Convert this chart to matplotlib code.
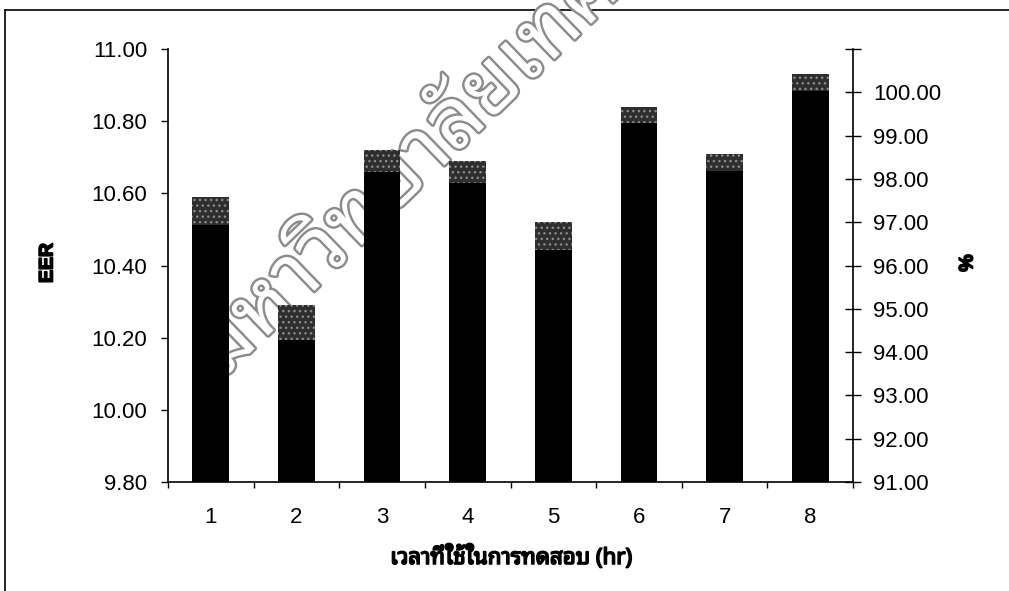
import matplotlib
matplotlib.use("Agg")
import matplotlib.pyplot as plt
import matplotlib.patheffects as pe
from matplotlib.lines import Line2D
import numpy as np

# Test hours and measured results
hours = [1, 2, 3, 4, 5, 6, 7, 8]
eer = [10.59, 10.29, 10.72, 10.69, 10.52, 10.84, 10.71, 10.93]
percent = [96.94, 94.28, 98.16, 97.90, 96.36, 99.29, 98.18, 100.02]

eer_ticks = [9.80, 10.00, 10.20, 10.40, 10.60, 10.80, 11.00]
pct_ticks = [91, 92, 93, 94, 95, 96, 97, 98, 99, 100, 101]

x_label = "เวลาที่ใช้ในการทดสอบ (hr)"
left_label = "EER"
right_label = "%"
stamp = "มหาวิทยาลัยเทคโนโลยีราชมงคล"

num_font = "Liberation Sans"
thai_font = ["Noto Sans Thai Looped", "Liberation Sans"]
heavy = [pe.withStroke(linewidth=1.2, foreground="black")]

W, H = 1009, 591
fig = plt.figure(figsize=(W / 100, H / 100), dpi=100)
fig.patch.set_facecolor("white")

# page frame lines
fig.add_artist(Line2D([5 / W, 1.0], [1 - 10 / H, 1 - 10 / H], color="black", lw=1.2, zorder=-3))
fig.add_artist(Line2D([5 / W, 5 / W], [0.0, 1 - 10 / H], color="black", lw=1.2, zorder=-3))

# outlined stamp text running diagonally behind the bars
fig.text(222 / W, 1 - 380 / H, stamp, family=thai_font, fontsize=60,
         rotation=44, rotation_mode="anchor", ha="left", va="baseline",
         color="white", zorder=-1,
         path_effects=[pe.withStroke(linewidth=3.5, foreground="#8c8c8c")])

ax = fig.add_axes([168 / W, 1 - 482 / H, 685 / W, 433 / H])
ax.patch.set_visible(False)
xpos = np.arange(len(hours))
bw = 0.43

ax.bar(xpos, eer, width=bw, bottom=0, color="#2e2e2e", edgecolor="#8a8a8a",
       linewidth=0, hatch="...", zorder=2)
ax.set_xlim(-0.5, len(hours) - 0.5)
ax.set_ylim(9.8, 11.0)
ax.set_yticks(eer_ticks)
ax.set_yticklabels([f"{v:.2f}" for v in eer_ticks], family=num_font, fontsize=16)
ax.set_xticks(xpos)
ax.set_xticklabels([str(h) for h in hours], family=num_font, fontsize=16)
ax.set_xticks(np.arange(len(hours) + 1) - 0.5, minor=True)
ax.tick_params(axis="x", which="major", length=0, pad=18)
ax.tick_params(axis="x", which="minor", length=4, width=1, direction="out")
ax.tick_params(axis="y", which="major", length=5, width=1, direction="out", pad=10)
for s in ("top", "right"):
    ax.spines[s].set_visible(False)
for s in ("left", "bottom"):
    ax.spines[s].set_linewidth(1.2)

ax2 = ax.twinx()
ax2.patch.set_visible(False)
ax2.bar(xpos, percent, width=bw, bottom=0, color="black", linewidth=0, zorder=3)
ax2.set_ylim(91, 101)
ax2.set_yticks(pct_ticks)
ax2.set_yticklabels([f"{v:.2f}" if v <= 100 else "" for v in pct_ticks],
                    family=num_font, fontsize=16)
ax2.tick_params(axis="y", length=11, width=1, direction="inout", pad=9)
for s in ("top", "left", "bottom"):
    ax2.spines[s].set_visible(False)
ax2.spines["right"].set_linewidth(1.2)

fig.text(48 / W, 1 - 263 / H, left_label, family=num_font, fontweight="bold", fontsize=14,
         rotation=90, ha="center", va="center", path_effects=heavy)
fig.text(968 / W, 1 - 263 / H, right_label, family=num_font, fontweight="bold", fontsize=14,
         rotation=90, ha="center", va="center", path_effects=heavy)
fig.text(511 / W, 1 - 557 / H, x_label, family=thai_font, fontweight="bold", fontsize=16,
         ha="center", va="center", path_effects=heavy)

fig.savefig("out.png", dpi=100)
